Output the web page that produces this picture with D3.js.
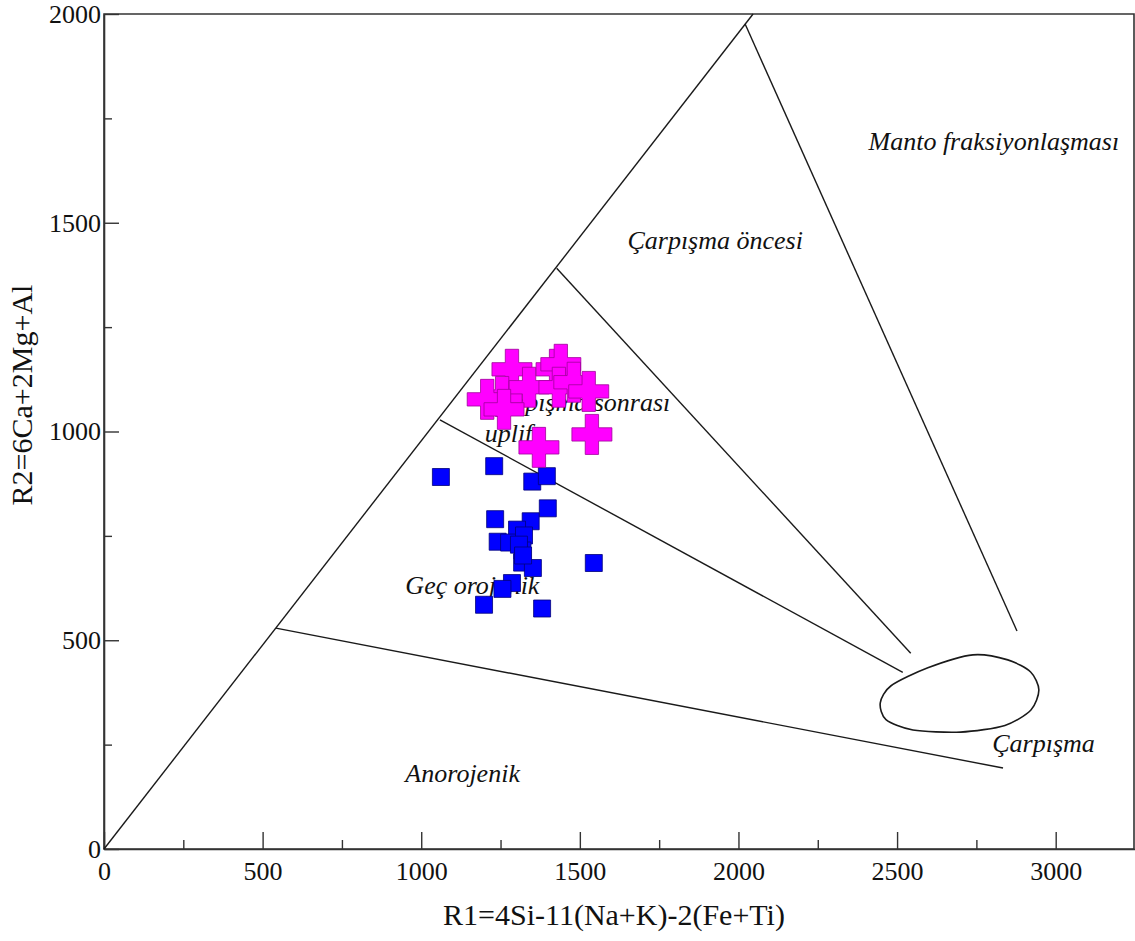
<!DOCTYPE html>
<html>
<head>
<meta charset="utf-8">
<script src="https://cdn.jsdelivr.net/npm/d3@7"></script>
<style>
  body { margin: 0; background: #fff; }
  text { font-family: 'Liberation Serif', 'Times New Roman', serif; fill: #111; }
  .field { font-style: italic; font-size: 26px; }
</style>
</head>
<body>
<svg id="chart" width="1135" height="941"></svg>
<script>
// R1-R2 diagram (Batchelor & Bowden) - field boundaries in data units
const boundaryLines = [
  [[0, 0], [2046, 2000]],
  [[2021, 1976], [2878, 522]],
  [[1427, 1391], [2543, 469]],
  [[1059, 1028], [2518, 423]],
  [[542, 529], [2834, 194]]
];

const collisionOutline = [
  [2481, 391], [2597, 434], [2739, 465], [2849, 453], [2921, 424], [2947, 381],
  [2922, 333], [2840, 296], [2700, 280], [2550, 285], [2465, 310], [2447, 350]
];

const fieldLabels = [
  { text: 'Manto fraksiyonlaşması', x: 2410, y: 1675 },
  { text: 'Çarpışma öncesi', x: 1650, y: 1437 },
  { text: 'Çarpışma sonrası', x: 1200, y: 1050 },
  { text: 'uplift', x: 1200, y: 975 },
  { text: 'Geç orojenik', x: 950, y: 610 },
  { text: 'Anorojenik', x: 950, y: 160 },
  { text: 'Çarpışma', x: 2800, y: 232 }
];

// blue squares
const squareR1 = [1062, 1230, 1350, 1396, 1399, 1233, 1345, 1302, 1241, 1277, 1324, 1319,
  1318, 1352, 1544, 1286, 1256, 1198, 1381, 1308, 1321];
const squareR2 = [891, 917, 880, 893, 816, 790, 785, 765, 736, 734, 751, 715,
  686, 673, 685, 637, 623, 585, 576, 729, 703];

// magenta crosses
const crossR1 = [1286, 1255, 1208, 1340, 1425, 1440, 1434, 1481, 1528, 1538, 1371, 1261];
const crossR2 = [1149, 1084, 1077, 1106, 1149, 1161, 1106, 1118, 1096, 993, 962, 1053];

const xTicks = [0, 500, 1000, 1500, 2000, 2500, 3000];
const yTicks = [0, 500, 1000, 1500, 2000];

const svg = d3.select('#chart');
const x = d3.scaleLinear().domain([0, 3250]).range([104, 1135]);
const y = d3.scaleLinear().domain([0, 2000]).range([849, 14]);

const line = d3.line().x(d => x(d[0])).y(d => y(d[1]));

// frame
svg.append('path')
  .attr('d', `M${x(0)},${y(0)}V${y(2000)}H${x(3250) - 1}V${y(0)}Z`)
  .attr('fill', 'none')
  .attr('stroke', '#333')
  .attr('stroke-width', 1.6);

// axes with inward ticks
const xAxis = svg.append('g')
  .attr('transform', `translate(0,${y(0)})`)
  .call(d3.axisBottom(x).tickValues(d3.range(0, 3250, 250)).tickSize(-17).tickSizeOuter(0)
    .tickFormat(d => xTicks.includes(d) ? d : ''));
xAxis.selectAll('.tick line').attr('y2', d => xTicks.includes(d) ? -17 : -9);
xAxis.selectAll('.tick text').attr('dy', '1.1em').attr('y', 2);

const yAxis = svg.append('g')
  .attr('transform', `translate(${x(0)},0)`)
  .call(d3.axisLeft(y).tickValues(d3.range(0, 2001, 250)).tickSize(-15).tickSizeOuter(0)
    .tickFormat(d => yTicks.includes(d) ? d : ''));
yAxis.selectAll('.tick line').attr('x2', d => yTicks.includes(d) ? 15 : 8);
yAxis.selectAll('.tick text').attr('x', -3);

svg.selectAll('.domain').attr('stroke', '#333').attr('stroke-width', 1.6);
svg.selectAll('.tick line').attr('stroke', '#333').attr('stroke-width', 1.4);
svg.selectAll('.tick text')
  .style('font-family', "'Liberation Serif', serif")
  .style('font-size', '26px')
  .attr('fill', '#111');

// axis titles
svg.append('text')
  .attr('x', 614).attr('y', 925)
  .attr('text-anchor', 'middle')
  .style('font-size', '30px')
  .text('R1=4Si-11(Na+K)-2(Fe+Ti)');

svg.append('text')
  .attr('transform', 'translate(32,395) rotate(-90)')
  .attr('text-anchor', 'middle')
  .style('font-size', '30px')
  .text('R2=6Ca+2Mg+Al');

// field boundaries
svg.append('g').selectAll('path')
  .data(boundaryLines)
  .join('path')
  .attr('d', line)
  .attr('fill', 'none')
  .attr('stroke', '#1a1a1a')
  .attr('stroke-width', 1.4);

svg.append('path')
  .datum(collisionOutline)
  .attr('d', line.curve(d3.curveCardinalClosed.tension(0.2)))
  .attr('fill', 'none')
  .attr('stroke', '#1a1a1a')
  .attr('stroke-width', 1.6);

// field names
svg.append('g').selectAll('text')
  .data(fieldLabels)
  .join('text')
  .attr('class', 'field')
  .attr('x', d => x(d.x))
  .attr('y', d => y(d.y))
  .text(d => d.text);

// samples
const squares = squareR1.map((v, i) => [v, squareR2[i]]);
const crosses = crossR1.map((v, i) => [v, crossR2[i]]);

svg.append('g').selectAll('path')
  .data(squares)
  .join('path')
  .attr('transform', d => `translate(${x(d[0])},${y(d[1])})`)
  .attr('d', d3.symbol(d3.symbolSquare, 289))
  .attr('fill', '#0000ff')
  .attr('stroke', '#00007a')
  .attr('stroke-width', 0.8);

svg.append('g').selectAll('path')
  .data(crosses)
  .join('path')
  .attr('transform', d => `translate(${x(d[0])},${y(d[1])})`)
  .attr('d', d3.symbol(d3.symbolCross, 889))
  .attr('fill', '#ff00ff')
  .attr('stroke', '#a0009a')
  .attr('stroke-width', 0.8);
</script>
</body>
</html>
